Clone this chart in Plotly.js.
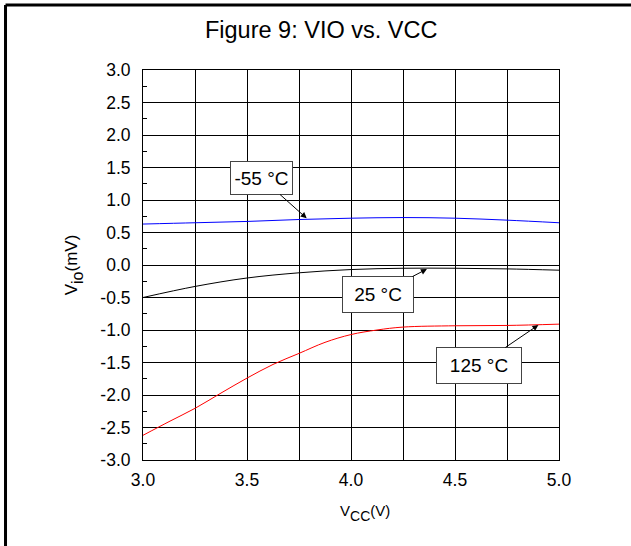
<!DOCTYPE html>
<html>
<head>
<meta charset="utf-8">
<script src="https://cdn.plot.ly/plotly-3.0.1.min.js"></script>
<style>
html,body{margin:0;padding:0;background:#fff;}
#chart{width:631px;height:546px;}
</style>
</head>
<body>
<div id="chart"></div>
<script>
// Data
const vcc = [3.0, 3.25, 3.5, 3.75, 4.0, 4.25, 4.5, 4.75, 5.0];
const vioM55 = [0.63, 0.65, 0.67, 0.70, 0.72, 0.73, 0.72, 0.69, 0.65];
const vio25 = [-0.50, -0.33, -0.20, -0.12, -0.07, -0.05, -0.05, -0.06, -0.08];
const vcc125 = [3.0, 3.125, 3.25, 3.375, 3.5, 3.625, 3.75, 3.875, 4.0, 4.125, 4.25, 4.5, 4.75, 5.0];
const vio125 = [-2.62, -2.41, -2.205, -1.97, -1.74, -1.53, -1.36, -1.19, -1.07, -1.00, -0.955, -0.935, -0.93, -0.91];
const seriesNames = ['-55 °C', '25 °C', '125 °C'];
const seriesColors = ['#0000ff', '#000000', '#ff0000'];
const yTickVals = [-3.0, -2.5, -2.0, -1.5, -1.0, -0.5, 0.0, 0.5, 1.0, 1.5, 2.0, 2.5, 3.0];
const yTickText = ['-3.0', '-2.5', '-2.0', '-1.5', '-1.0', '-0.5', '0.0', '0.5', '1.0', '1.5', '2.0', '2.5', '3.0'];
const xTickVals = [3.0, 3.5, 4.0, 4.5, 5.0];
const xTickText = ['3.0', '3.5', '4.0', '4.5', '5.0'];
// label callouts: [text, box center x, box center y, arrow head x, head y, box w, box h]
const callouts = [
  ['-55 °C', 3.570, 1.338, 3.787, 0.718, 57, 28],
  ['25 °C', 4.130, -0.454, 4.365, -0.062, 66, 31],
  ['125 °C', 4.615, -1.546, 4.901, -0.923, 80, 31]
];

const traces = [
  {x: vcc, y: vioM55, name: seriesNames[0], mode: 'lines', line: {color: seriesColors[0], width: 1, shape: 'spline'}},
  {x: vcc, y: vio25, name: seriesNames[1], mode: 'lines', line: {color: seriesColors[1], width: 1, shape: 'spline'}},
  {x: vcc125, y: vio125, name: seriesNames[2], mode: 'lines', line: {color: seriesColors[2], width: 1, shape: 'spline'}}
];

const annotations = callouts.map(c => ({
  x: c[3], y: c[4], xref: 'x', yref: 'y',
  ax: c[1], ay: c[2], axref: 'x', ayref: 'y',
  text: c[0], showarrow: true, arrowhead: 2, arrowsize: 1.2, arrowwidth: 1, arrowcolor: '#000',
  width: c[5], height: c[6], bgcolor: '#fff', bordercolor: '#444', borderwidth: 1, borderpad: 2,
  font: {family: 'Liberation Sans, Arial', size: 19, color: '#000'}
}));
// x-axis title placed as an annotation (reference puts it right of centre)
annotations.push({
  xref: 'paper', yref: 'paper', x: 0.534, y: -0.135, xanchor: 'center', yanchor: 'middle', showarrow: false,
  text: 'V<sub><sub><span style="font-size:14px">CC</span></sub></sub>(V)',
  font: {family: 'Liberation Sans, Arial', size: 15, color: '#000'}
});

const layout = {
  width: 631, height: 546,
  margin: {l: 143, r: 72, t: 70, b: 86},
  paper_bgcolor: '#fff', plot_bgcolor: '#fff',
  showlegend: false,
  font: {family: 'Liberation Sans, Arial', size: 16, color: '#000'},
  title: {text: 'Figure 9: VIO vs. VCC', x: 0.509, xanchor: 'center', y: 0.945, yanchor: 'middle',
          font: {family: 'Liberation Sans, Arial', size: 23.5, color: '#000'}},
  xaxis: {
    range: [3.0, 5.0], tickvals: xTickVals, ticktext: xTickText,
    showgrid: true, gridcolor: '#000', gridwidth: 1,
    minor: {dtick: 0.25, tick0: 3.0, showgrid: true, gridcolor: '#000', gridwidth: 1},
    showline: true, linecolor: '#000', linewidth: 1, mirror: true,
    ticks: '', zeroline: false, ticklabelstandoff: 4,
    tickfont: {size: 17.5}
  },
  yaxis: {
    range: [-3.0, 3.0], tickvals: yTickVals, ticktext: yTickText,
    showgrid: true, gridcolor: '#000', gridwidth: 1,
    minor: {dtick: 0.25, tick0: -3.0, ticks: 'inside', ticklen: 4, tickcolor: '#000', showgrid: false},
    showline: true, linecolor: '#000', linewidth: 1, mirror: true,
    ticks: 'inside', ticklen: 5, tickcolor: '#000', zeroline: false, ticklabelstandoff: 8,
    tickfont: {size: 17.5},
    title: {text: 'V<sub><sub><span style="font-size:16px">io</span></sub></sub>(mV)', standoff: 18, font: {size: 17}}
  },
  annotations: annotations,
  shapes: [
    {type: 'line', xref: 'paper', yref: 'paper', x0: -0.3305, x1: -0.3305, y0: 1.1667, y1: -0.23, line: {color: '#000', width: 3}},
    {type: 'line', xref: 'paper', yref: 'paper', x0: -0.3305, x1: 1.2, y0: 1.1667, y1: 1.1667, line: {color: '#000', width: 3}}
  ]
};

Plotly.newPlot('chart', traces, layout, {displayModeBar: false, staticPlot: true});
</script>
</body>
</html>
